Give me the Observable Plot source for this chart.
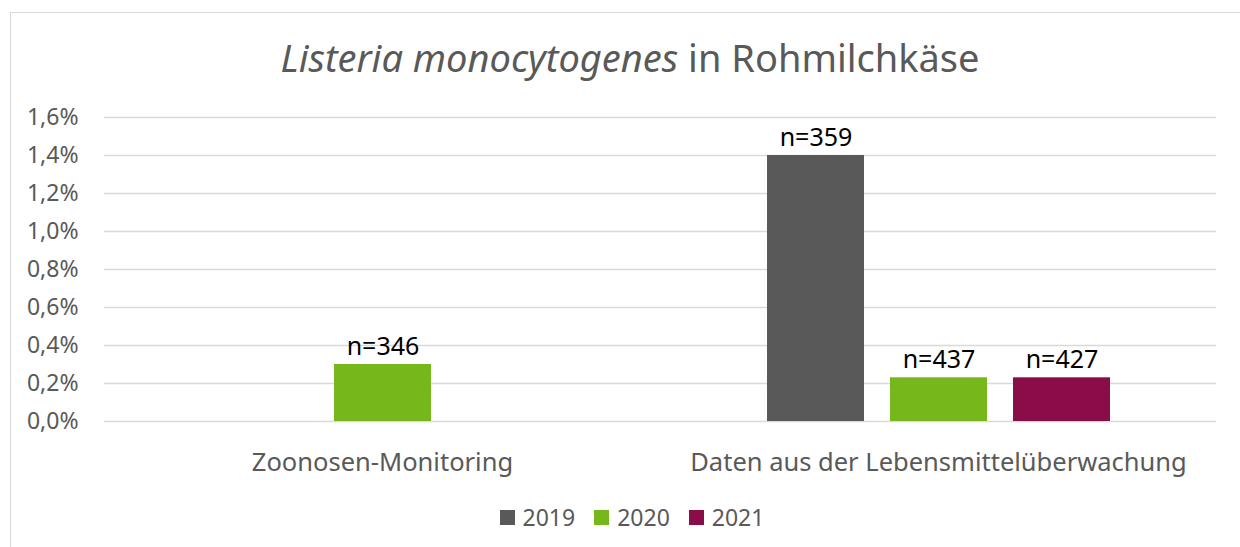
<!DOCTYPE html>
<html>
<head>
<meta charset="utf-8">
<script src="https://cdn.jsdelivr.net/npm/d3@7"></script>
<script src="https://cdn.jsdelivr.net/npm/@observablehq/plot@0.6"></script>
<style>
  html, body { margin: 0; padding: 0; background: #fff; }
  #wrap { position: relative; width: 1240px; height: 547px; overflow: hidden; font-family: "Noto Sans", sans-serif; }
  #frame { position: absolute; left: 10px; top: 12px; width: 1300px; height: 600px; border-left: 1.5px solid #d9d9d9; border-top: 1.5px solid #d9d9d9; }
  #title { position: absolute; left: 18px; width: 1224px; top: 38px; text-align: center; font-size: 38px; color: #595959; line-height: 1; }
  #chart { position: absolute; left: 0; top: 0; }
  #legend { position: absolute; top: 501px; left: 0; width: 1264px; display: flex; justify-content: center; gap: 19px; font-size: 23px; color: #595959; }
  .item { display: flex; align-items: center; gap: 8px; }
  .sw { width: 15px; height: 15px; display: inline-block; }
</style>
</head>
<body>
<div id="wrap">
  <div id="frame"></div>
  <div id="title"><i>Listeria monocytogenes</i> in Rohmilchkäse</div>
  <div id="chart"></div>
  <div id="legend"></div>
</div>
<script>
const groups = ["Zoonosen-Monitoring", "Daten aus der Lebensmittelüberwachung"];
const years = ["2019", "2020", "2021"];
const yearColors = ["#595959", "#76b81b", "#8a0d4a"];
const barGroup = ["Zoonosen-Monitoring", "Daten aus der Lebensmittelüberwachung", "Daten aus der Lebensmittelüberwachung", "Daten aus der Lebensmittelüberwachung"];
const barYear = ["2020", "2019", "2020", "2021"];
const barValue = [0.30, 1.40, 0.23, 0.23];
const barN = [346, 359, 437, 427];
const yTicks = [0, 0.2, 0.4, 0.6, 0.8, 1.0, 1.2, 1.4, 1.6];

const data = barGroup.map((g, i) => ({group: g, year: barYear[i], value: barValue[i], n: "n=" + barN[i]}));
const fmt = d => d.toFixed(1).replace(".", ",") + "%";

const plot = Plot.plot({
  width: 1240,
  height: 490,
  marginTop: 117,
  marginBottom: 69,
  marginLeft: 104,
  marginRight: 24,
  style: {fontFamily: "'Noto Sans', sans-serif", background: "transparent", overflow: "visible"},
  fx: {domain: groups, padding: 0, label: null},
  x: {domain: years, paddingInner: 0.215, paddingOuter: 0.86, axis: null},
  y: {domain: [0, 1.6], ticks: yTicks, label: null},
  color: {domain: years, range: yearColors},
  marks: [
    Plot.ruleY(yTicks, {stroke: "#d9d9d9", strokeWidth: 1.5}),
    Plot.axisY({ticks: yTicks, tickFormat: fmt, tickSize: 0, tickPadding: 26, fontSize: 23, color: "#595959", label: null}),
    Plot.axisFx({anchor: "bottom", tickSize: 0, tickPadding: 31, fontSize: 25.5, color: "#595959", label: null}),
    Plot.barY(data, {fx: "group", x: "year", y: "value", fill: "year"}),
    Plot.text(data, {fx: "group", x: "year", y: "value", text: "n", dy: -18, fontSize: 25, fill: "#000"})
  ]
});
document.getElementById("chart").appendChild(plot);

const legend = document.getElementById("legend");
years.forEach((y, i) => {
  const it = document.createElement("div");
  it.className = "item";
  it.innerHTML = `<span class="sw" style="background:${yearColors[i]}"></span><span>${y}</span>`;
  legend.appendChild(it);
});
</script>
</body>
</html>
